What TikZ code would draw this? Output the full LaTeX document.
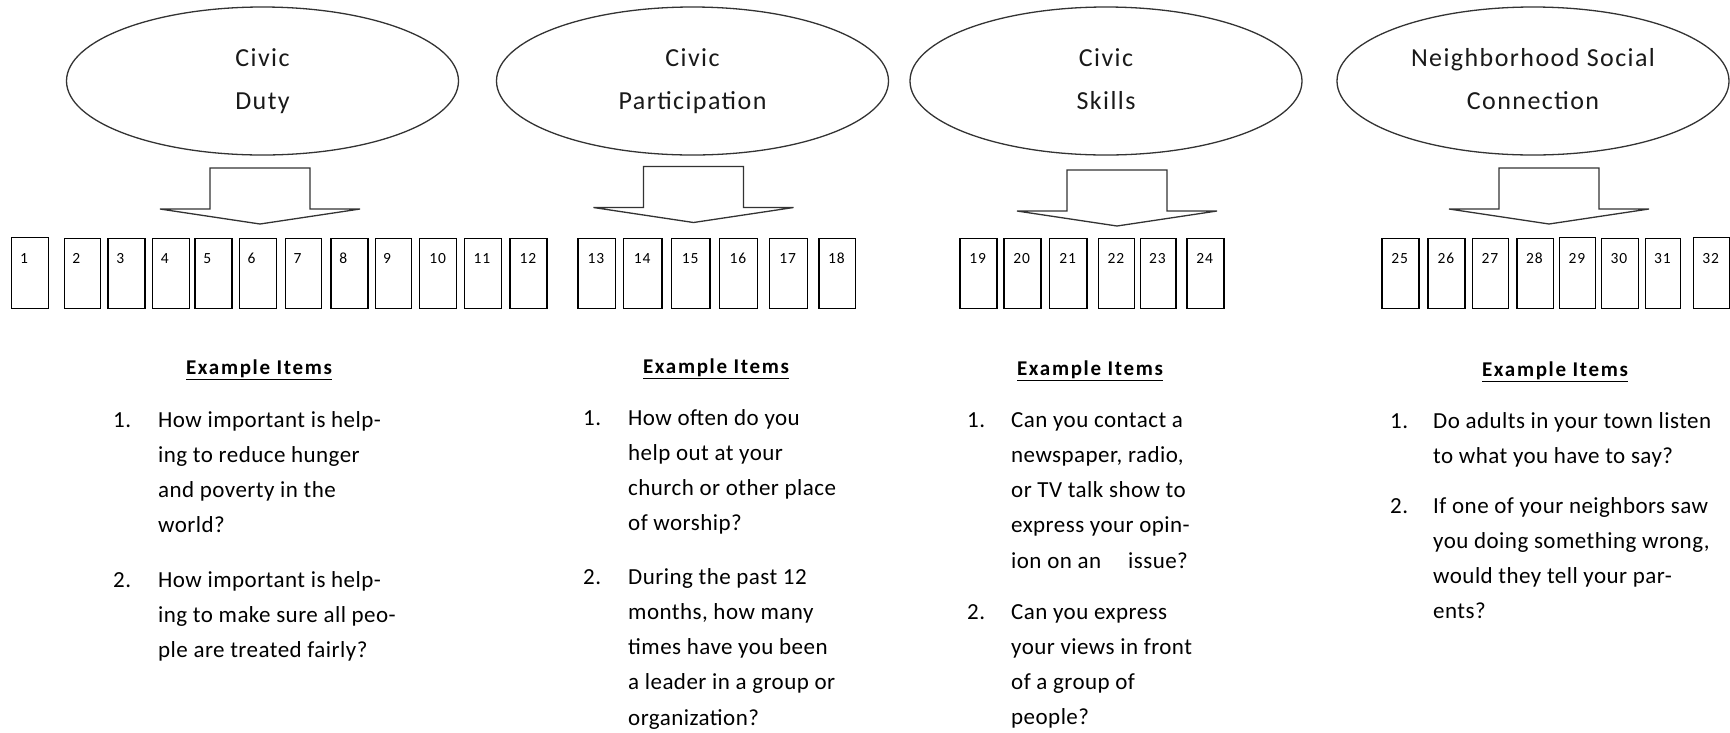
\documentclass[tikz,border=0pt]{standalone}
\usepackage{fontspec}
\setmainfont{Carlito}
\newfontfamily\ellfont[LetterSpace=5.5]{Carlito}
\newfontfamily\headfont[LetterSpace=8]{Carlito}
\newfontfamily\bodyfont[LetterSpace=2]{Carlito}
\newfontfamily\numfont[LetterSpace=6]{Carlito}
\usetikzlibrary{shapes.geometric}
\begin{document}
\begin{tikzpicture}[x=1pt,y=-1pt,
  ell/.style={draw=black!80, line width=1.3pt, ellipse, minimum width=392pt, minimum height=148pt, inner sep=0pt},
  elltext/.style={align=center, font=\ellfont\fontsize{26}{42.5}\selectfont, text=black!90, inner sep=0pt, anchor=base},
  itembox/.style={draw=black, line width=1.3pt, inner sep=0pt, anchor=north west},
  numtext/.style={font=\numfont\fontsize{15.5}{16}\selectfont, inner sep=0pt, anchor=base},
  head/.style={font=\headfont\bfseries\fontsize{21}{25}\selectfont, inner sep=0pt, anchor=base},
  body/.style={font=\bodyfont\fontsize{23}{35.25}\selectfont, align=left, inner sep=0pt, anchor=base west},
  blockarrow/.pic={\draw[line width=1.3pt, draw=black!80, line join=miter]
     (-50,0) -- (50,0) -- (50,41) -- (100,41) -- (0,56) -- (-100,41) -- (-50,41) -- cycle;}
]
\useasboundingbox (0,0) rectangle (1730,732);

% ellipses
\node[ell] (e1) at (262.5,81) {};
\node[ell] (e2) at (692.5,81) {};
\node[ell] (e3) at (1106,81) {};
\node[ell] (e4) at (1533,81) {};
% (base anchor of a multi-line node = baseline of its last line)
\node[elltext] (t1) at (262.5,109) {Civic\\Duty};
\node[elltext] (t2) at (692.5,109) {Civic\\Participation};
\node[elltext] (t3) at (1106,109) {Civic\\Skills};
\node[elltext] (t4) at (1533,109) {Neighborhood Social\\Connection};

% block arrows
\coordinate (a1) at (260,168);
\coordinate (a2) at (693.5,166.5);
\coordinate (a3) at (1117,170);
\coordinate (a4) at (1549,168);
\foreach \a in {a1,a2,a3,a4} {\pic at (\a) {blockarrow};}

% item boxes
\foreach \i/\l/\r/\t in {1/11.1/48.1/236.5, 2/63.6/99.9/238, 3/107.3/144.3/238, 4/151.7/188.7/238,
  5/194.2/231.2/238, 6/238.6/275.6/238, 7/284.8/321.1/238, 8/330.3/367.3/238, 9/374.7/410.6/238,
  10/419.1/456.1/238, 11/463.5/500.5/238, 12/509.4/546.4/238, 13/577.2/614.7/238, 14/623.1/661.4/238,
  15/671.0/709.3/238, 16/718.8/757.1/238, 17/768.6/806.8/238, 18/818.3/854.7/238,
  19/959.2/996.3/238, 20/1003.2/1040.3/238, 21/1049.1/1086.2/238, 22/1097.7/1134.1/238,
  23/1139.8/1175.2/238, 24/1186.3/1223.2/238, 25/1381.2/1418.2/238, 26/1427.4/1464.4/238,
  27/1471.8/1508.1/238, 28/1516.2/1552.5/238, 29/1558.7/1595.0/236.5, 30/1600.5/1637.5/238,
  31/1644.9/1680.1/237.5, 32/1692.6/1728.9/236.5} {
  \pgfmathsetmacro\bw{\r-\l}
  \pgfmathsetmacro\bh{307.5-\t}
  \pgfmathsetmacro\nx{(\l+\r)/2 + (\i<10 ? -5.5 : 0)}
  \node[itembox, minimum width=\bw pt, minimum height=\bh pt] (b\i) at (\l,\t) {};
  \node[numtext] (n\i) at (\nx,263.5) {\i};
}

% headings
\node[head] (h1) at (259,374) {\underline{Example Items}};
\node[head] (h2) at (716,373) {\underline{Example Items}};
\node[head] (h3) at (1090,375) {\underline{Example Items}};
\node[head] (h4) at (1555,376) {\underline{Example Items}};

% block 1
\node[body] (k1a) at (113,427) {1.};
\node[body] (q1a) at (158,532.75) {How important is help-\\ing to reduce hunger\\and poverty in the\\world?};
\node[body] (k1b) at (113,587) {2.};
\node[body] (q1b) at (158,657.5) {How important is help-\\ing to make sure all peo-\\ple are treated fairly?};

% block 2
\node[body] (k2a) at (583,425) {1.};
\node[body] (q2a) at (628,530.75) {How often do you\\help out at your\\church or other place\\of worship?};
\node[body] (k2b) at (583,584) {2.};
\node[body] (q2b) at (628,725) {During the past 12\\months, how many\\times have you been\\a leader in a group or\\organization?};

% block 3
\node[body] (k3a) at (967,427) {1.};
\node[body] (q3a) at (1011,568) {Can you contact a\\newspaper, radio,\\or TV talk show to\\express your opin-\\ion on an\hspace{27pt}issue?};
\node[body] (k3b) at (967,619) {2.};
\node[body] (q3b) at (1011,724.75) {Can you express\\your views in front\\of a group of\\people?};

% block 4
\node[body] (k4a) at (1390,428) {1.};
\node[body] (q4a) at (1433,463.25) {Do adults in your town listen\\to what you have to say?};
\node[body] (k4b) at (1390,513) {2.};
\node[body] (q4b) at (1433,618.75) {If one of your neighbors saw\\you doing something wrong,\\would they tell your par-\\ents?};
\end{tikzpicture}
\end{document}
